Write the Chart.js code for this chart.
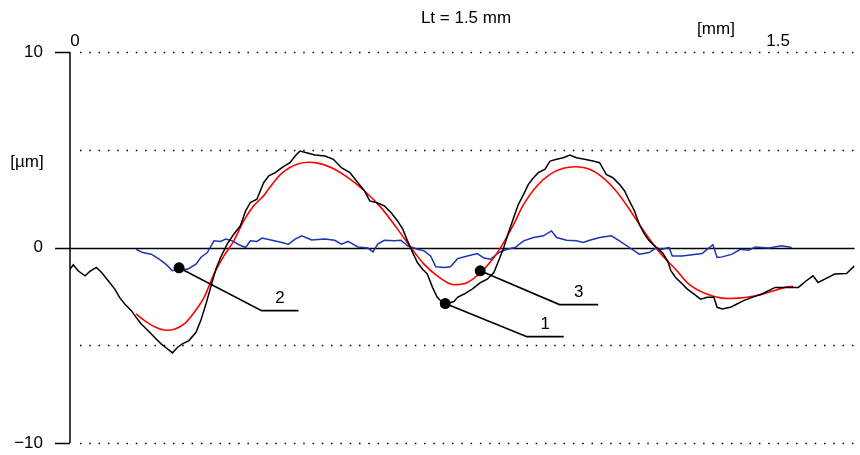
<!DOCTYPE html>
<html>
<head>
<meta charset="utf-8">
<script src="https://cdn.jsdelivr.net/npm/chart.js@4.4.0/dist/chart.umd.min.js"></script>
<style>
  html, body { margin: 0; padding: 0; background: #fff; }
  #wrap { width: 860px; height: 455px; position: relative; }
</style>
</head>
<body>
<div id="wrap"><canvas id="chart"></canvas></div>
<script>
// profile data: [x in mm, height in µm]
const primaryProfile = [
  [0.000,-1.11],[0.007,-0.88],[0.017,-1.19],[0.032,-1.45],[0.042,-1.22],[0.056,-1.02],[0.067,-1.28],
  [0.081,-1.70],[0.095,-2.13],[0.105,-2.55],[0.116,-2.89],[0.130,-3.23],[0.140,-3.57],[0.151,-3.91],
  [0.165,-4.25],[0.179,-4.59],[0.193,-4.93],[0.207,-5.19],[0.217,-5.39],[0.228,-5.10],[0.238,-4.93],
  [0.252,-4.76],[0.267,-4.34],[0.277,-3.74],[0.288,-2.89],[0.298,-2.04],[0.309,-1.11],[0.319,-0.51],
  [0.333,0.17],[0.347,0.68],[0.361,1.11],[0.372,1.87],[0.382,2.30],[0.396,2.47],[0.410,3.30],
  [0.421,3.66],[0.435,3.83],[0.449,4.08],[0.466,4.34],[0.477,4.68],[0.487,4.93],[0.501,4.85],
  [0.519,4.73],[0.540,4.68],[0.558,4.51],[0.575,4.08],[0.593,3.83],[0.607,3.40],[0.624,2.89],
  [0.635,2.38],[0.649,2.30],[0.666,2.13],[0.680,1.79],[0.694,1.36],[0.705,0.94],[0.715,0.34],
  [0.726,-0.26],[0.736,-0.77],[0.747,-1.11],[0.757,-1.36],[0.768,-2.04],[0.778,-2.55],[0.789,-2.81],
  [0.799,-2.89],[0.814,-2.75],[0.821,-2.55],[0.835,-2.38],[0.852,-2.13],[0.870,-1.79],[0.884,-1.62],
  [0.898,-1.28],[0.908,-0.68],[0.919,0.00],[0.929,0.77],[0.940,1.53],[0.950,2.21],[0.961,2.72],
  [0.971,3.23],[0.982,3.57],[0.992,3.83],[1.006,4.00],[1.017,4.42],[1.031,4.51],[1.045,4.59],
  [1.059,4.73],[1.073,4.59],[1.090,4.51],[1.108,4.42],[1.122,4.34],[1.136,3.74],[1.150,3.57],
  [1.164,3.23],[1.175,2.89],[1.185,2.38],[1.196,1.87],[1.206,1.19],[1.217,0.68],[1.227,0.34],
  [1.241,0.03],[1.255,-0.26],[1.266,-0.68],[1.273,-1.19],[1.283,-1.53],[1.294,-1.79],[1.308,-2.13],
  [1.322,-2.38],[1.336,-2.64],[1.350,-2.55],[1.364,-2.55],[1.371,-3.06],[1.382,-3.15],[1.399,-3.06],
  [1.413,-2.89],[1.427,-2.72],[1.445,-2.55],[1.466,-2.38],[1.494,-2.04],[1.522,-2.04],[1.543,-2.04],
  [1.560,-1.70],[1.574,-1.45],[1.585,-1.79],[1.599,-1.62],[1.620,-1.36],[1.645,-1.33],[1.662,-0.94]
]

const meanLine = [
  [0.140,-3.40],[0.158,-3.74],[0.179,-4.05],[0.200,-4.22],[0.221,-4.18],[0.242,-3.91],[0.263,-3.32],
  [0.284,-2.55],[0.305,-1.36],[0.326,-0.43],[0.347,0.34],[0.368,1.36],[0.389,2.13],[0.410,2.64],
  [0.421,3.00],[0.449,3.80],[0.484,4.28],[0.519,4.34],[0.554,4.08],[0.589,3.57],[0.624,2.89],
  [0.659,2.04],[0.694,0.94],[0.722,0.00],[0.750,-0.85],[0.778,-1.45],[0.806,-1.87],[0.821,-1.90],
  [0.842,-1.79],[0.870,-1.28],[0.898,-0.51],[0.919,0.26],[0.940,1.19],[0.961,2.21],[0.989,3.15],
  [1.017,3.74],[1.045,4.05],[1.073,4.13],[1.101,4.00],[1.129,3.57],[1.157,2.89],[1.185,1.96],
  [1.213,0.94],[1.241,0.00],[1.262,-0.60],[1.283,-1.11],[1.311,-1.87],[1.346,-2.35],[1.382,-2.59],
  [1.417,-2.59],[1.452,-2.47],[1.487,-2.24],[1.515,-2.04],[1.532,-1.99]
]

const roughnessProfile = [
  [0.140,-0.09],[0.154,-0.26],[0.172,-0.34],[0.189,-0.60],[0.203,-0.85],[0.217,-1.19],[0.231,-1.11],
  [0.249,-1.11],[0.267,-0.85],[0.277,-0.51],[0.291,-0.26],[0.305,0.34],[0.319,0.31],[0.330,0.43],
  [0.344,0.34],[0.358,0.14],[0.372,0.00],[0.382,0.34],[0.396,0.31],[0.407,0.48],[0.428,0.37],
  [0.449,0.26],[0.463,0.17],[0.477,0.43],[0.491,0.60],[0.512,0.39],[0.540,0.43],[0.561,0.37],
  [0.575,0.17],[0.589,0.31],[0.610,0.03],[0.631,-0.03],[0.642,-0.22],[0.652,0.17],[0.666,0.37],
  [0.687,0.34],[0.701,0.37],[0.715,0.09],[0.736,-0.09],[0.750,-0.17],[0.764,-0.43],[0.775,-0.99],
  [0.793,-1.02],[0.806,-0.99],[0.821,-0.57],[0.842,-0.43],[0.863,-0.31],[0.877,-0.54],[0.891,-0.60],
  [0.908,-0.26],[0.926,-0.09],[0.943,0.00],[0.961,0.34],[0.982,0.51],[1.003,0.60],[1.020,0.85],
  [1.031,0.51],[1.052,0.37],[1.073,0.34],[1.087,0.26],[1.101,0.37],[1.122,0.51],[1.147,0.60],
  [1.164,0.34],[1.185,0.00],[1.206,-0.34],[1.227,-0.26],[1.241,-0.03],[1.255,-0.09],[1.269,0.00],
  [1.276,-0.43],[1.297,-0.43],[1.318,-0.37],[1.339,-0.31],[1.353,-0.03],[1.362,0.14],[1.371,-0.51],
  [1.382,-0.48],[1.403,-0.34],[1.420,-0.09],[1.438,-0.14],[1.452,0.03],[1.480,-0.03],[1.508,0.09],
  [1.529,0.00]
]

// numbered markers: dot, leader corner, leader end, label
const markerLabels = ["1", "2", "3"]
const markerDots = [[0.795,-2.87],[0.231,-1.04],[0.869,-1.19]]
const leaderCorners = [[0.968,-4.56],[0.406,-3.23],[1.037,-2.92]]
const leaderEnds = [[1.046,-4.56],[0.484,-3.23],[1.119,-2.92]]

const xMin = 0, xMax = 1.662
const yMin = -10, yMax = 10
const yTicks = [10, 0, -10]
const yTickText = ["10", "0", "\u221210"]
const dottedLevels = [10, 5, -5, -10]
const xTopTicks = [0, 1.5]
const xTopText = ["0", "1.5"]

const FONT = "17px 'Liberation Sans', Arial, sans-serif"

const pts = arr => arr.map(p => ({ x: p[0], y: p[1] }))

const leaderSets = markerDots.map((d, i) => ({
  type: "line",
  data: pts([d, leaderCorners[i], leaderEnds[i]]),
  borderColor: "#000",
  borderWidth: 1.6,
  pointRadius: 0,
  tension: 0,
}))

// axes, grid lines and texts drawn through the scales
const frame = {
  id: "frame",
  beforeDatasetsDraw(chart) {
    const { ctx, scales: { x, y }, chartArea } = chart
    const x0 = x.getPixelForValue(0)
    ctx.save()
    ctx.strokeStyle = "#000"
    ctx.lineWidth = 1.5
    ctx.setLineDash([1.5, 7.8])
    dottedLevels.forEach(v => {
      const py = Math.round(y.getPixelForValue(v)) + 0.5
      ctx.beginPath()
      ctx.moveTo(x0 + 10, py)
      ctx.lineTo(chartArea.right, py)
      ctx.stroke()
    })
    ctx.setLineDash([])
    ctx.lineWidth = 1.5
    // vertical axis
    ctx.beginPath()
    ctx.moveTo(x0, y.getPixelForValue(yMax))
    ctx.lineTo(x0, y.getPixelForValue(yMin))
    ctx.stroke()
    // ticks and the zero line
    yTicks.forEach(v => {
      const py = Math.round(y.getPixelForValue(v)) + 0.5
      ctx.beginPath()
      ctx.moveTo(x0 - 15, py)
      ctx.lineTo(v === 0 ? chartArea.right : x0, py)
      ctx.stroke()
    })
    ctx.restore()
  },
  afterDraw(chart) {
    const { ctx, scales: { x, y } } = chart
    ctx.save()
    ctx.fillStyle = "#000"
    ctx.font = FONT
    ctx.textBaseline = "middle"
    ctx.textAlign = "right"
    yTicks.forEach((v, i) => ctx.fillText(yTickText[i], 43, y.getPixelForValue(v)))
    ctx.textAlign = "center"
    ctx.fillText("[\u00b5m]", 27, 162)
    xTopTicks.forEach((v, i) => ctx.fillText(xTopText[i], x.getPixelForValue(v) + (v === 0 ? 5 : 0), 41))
    ctx.fillText("[mm]", 716, 29)
    ctx.fillText("Lt = 1.5 mm", 466, 18)
    markerLabels.forEach((t, i) => {
      const px = (x.getPixelForValue(leaderCorners[i][0]) + x.getPixelForValue(leaderEnds[i][0])) / 2
      ctx.fillText(t, px, y.getPixelForValue(leaderEnds[i][1]) - 12)
    })
    ctx.restore()
  },
}

new Chart(document.getElementById("chart"), {
  type: "line",
  data: {
    datasets: [
      {
        type: "scatter",
        data: pts(markerDots),
        backgroundColor: "#000",
        borderWidth: 0,
        pointRadius: 5.5,
      },
      ...leaderSets,
      {
        data: pts(primaryProfile),
        borderColor: "#000",
        borderWidth: 1.5,
        pointRadius: 0,
        tension: 0,
      },
      {
        data: pts(meanLine),
        borderColor: "#ff0000",
        borderWidth: 1.6,
        pointRadius: 0,
        tension: 0.3,
      },
      {
        data: pts(roughnessProfile),
        borderColor: "#1c34b4",
        borderWidth: 1.5,
        pointRadius: 0,
        tension: 0,
      },
    ],
  },
  options: {
    responsive: true,
    maintainAspectRatio: false,
    animation: false,
    layout: { padding: { left: 70, right: 0, top: 52, bottom: 12 } },
    scales: {
      x: { type: "linear", min: xMin, max: xMax, display: false },
      y: { type: "linear", min: yMin, max: yMax, display: false },
    },
    plugins: {
      legend: { display: false },
      tooltip: { enabled: false },
    },
  },
  plugins: [frame],
})
</script>
</body>
</html>
